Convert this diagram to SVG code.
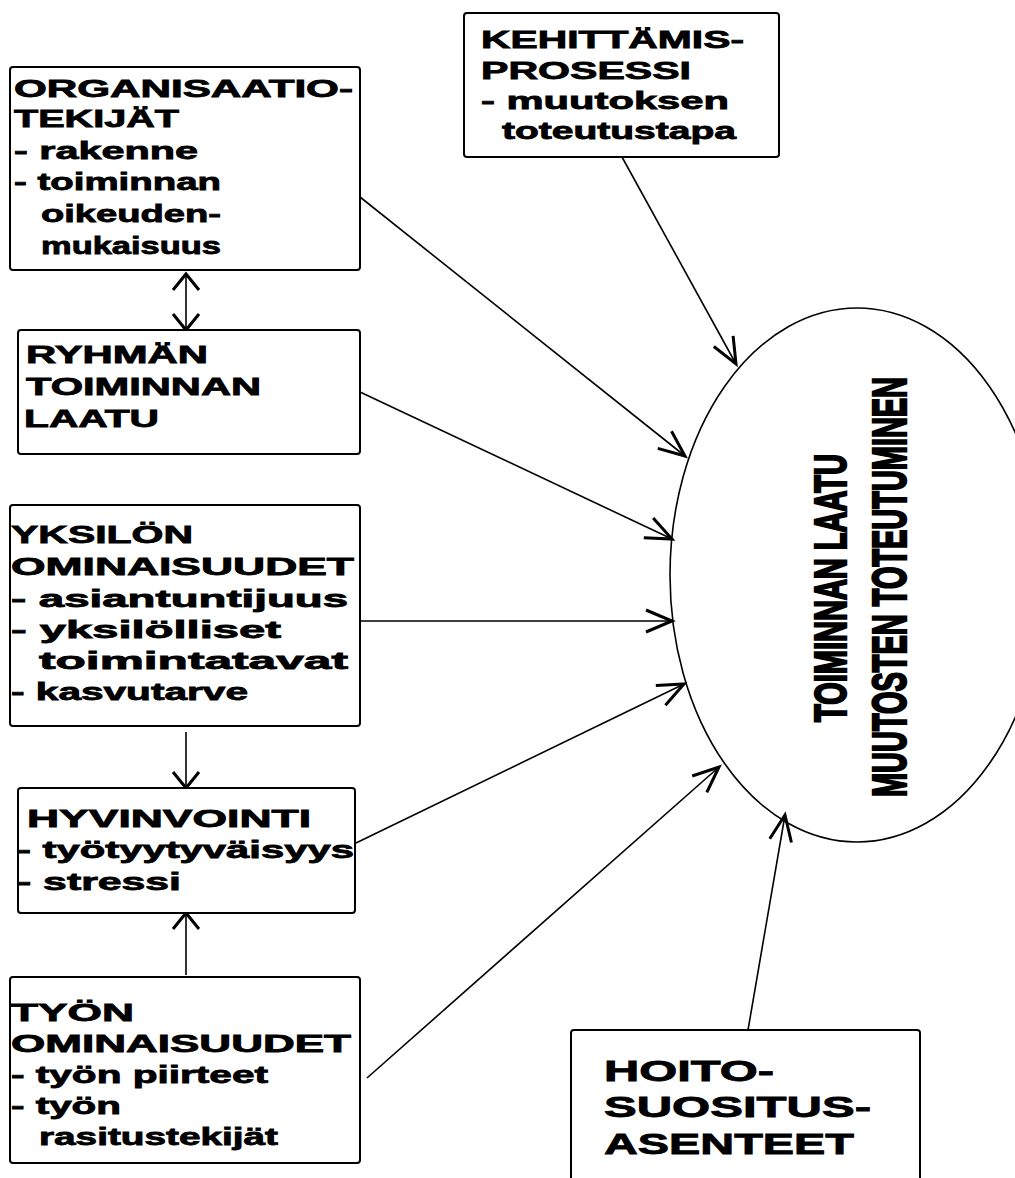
<svg xmlns="http://www.w3.org/2000/svg" width="1015" height="1178" viewBox="0 0 1015 1178">
<style>
.box{fill:#fff;stroke:#000;stroke-width:2}
.t{font-family:"Liberation Sans",Arial,sans-serif;font-weight:bold;font-size:24px;fill:#000;stroke:#000;stroke-width:0.8}
.big{font-size:29px}
.ell{font-family:"Liberation Sans",Arial,sans-serif;font-weight:bold;fill:#000;stroke:#000;stroke-width:2.4}
.c{fill:none;stroke:#000;stroke-width:1.6}
</style>
<defs>
<marker id="ah" markerUnits="userSpaceOnUse" orient="auto" refX="0" refY="0" markerWidth="40" markerHeight="40" overflow="visible">
<path d="M-26,-11 L0,0 L-26,11" fill="none" stroke="#000" stroke-width="3"/>
</marker>
<marker id="sh" markerUnits="userSpaceOnUse" orient="auto-start-reverse" refX="0" refY="0" markerWidth="40" markerHeight="40" overflow="visible">
<path d="M-16,-13 L0,0 L-16,13" fill="none" stroke="#000" stroke-width="3"/>
</marker>
</defs>
<rect width="1015" height="1178" fill="#fff"/>
<g id="connectors">
<line class="c" x1="360" y1="197" x2="685" y2="456" marker-end="url(#ah)"/>
<line class="c" x1="360" y1="392" x2="672" y2="539" marker-end="url(#ah)"/>
<line class="c" x1="360" y1="621" x2="672" y2="621" marker-end="url(#ah)"/>
<line class="c" x1="356" y1="843" x2="684" y2="684" marker-end="url(#ah)"/>
<line class="c" x1="367" y1="1078" x2="719" y2="767" marker-end="url(#ah)"/>
<line class="c" x1="622" y1="157" x2="736" y2="364" marker-end="url(#ah)"/>
<line class="c" x1="748" y1="1030" x2="785" y2="815" marker-end="url(#ah)"/>
<line class="c" x1="186" y1="274" x2="186" y2="330" marker-start="url(#sh)" marker-end="url(#sh)"/>
<line class="c" x1="186" y1="732" x2="186" y2="788" marker-end="url(#sh)"/>
<line class="c" x1="186" y1="975" x2="186" y2="913" marker-end="url(#sh)"/>
</g>
<g id="laatu">
<ellipse cx="857" cy="575" rx="187" ry="267" fill="none" stroke="#000" stroke-width="1.6"/>
<text class="ell" font-size="45" text-anchor="middle" textLength="268" lengthAdjust="spacingAndGlyphs" transform="translate(846,588) rotate(-90)">TOIMINNAN LAATU</text>
<text class="ell" font-size="48" text-anchor="middle" textLength="420" lengthAdjust="spacingAndGlyphs" transform="translate(906,587) rotate(-90)">MUUTOSTEN TOTEUTUMINEN</text>
</g>
<g id="organisaatio">
<rect class="box" x="10" y="67" width="350" height="203" rx="3"/>
<text class="t" x="14" y="97" textLength="339" lengthAdjust="spacingAndGlyphs">ORGANISAATIO-</text>
<text class="t" x="14" y="127" textLength="165" lengthAdjust="spacingAndGlyphs">TEKIJÄT</text>
<text class="t" x="14" y="159" textLength="184" lengthAdjust="spacingAndGlyphs">- rakenne</text>
<text class="t" x="14" y="190" textLength="207" lengthAdjust="spacingAndGlyphs">- toiminnan</text>
<text class="t" x="41" y="222" textLength="180" lengthAdjust="spacingAndGlyphs">oikeuden-</text>
<text class="t" x="41" y="254" textLength="180" lengthAdjust="spacingAndGlyphs">mukaisuus</text>
</g>
<g id="kehittamis">
<rect class="box" x="464" y="13" width="315" height="144" rx="3"/>
<text class="t" x="481" y="48" textLength="263" lengthAdjust="spacingAndGlyphs">KEHITTÄMIS-</text>
<text class="t" x="481" y="79" textLength="210" lengthAdjust="spacingAndGlyphs">PROSESSI</text>
<text class="t" x="481" y="109" textLength="248" lengthAdjust="spacingAndGlyphs">- muutoksen</text>
<text class="t" x="502" y="139" textLength="234" lengthAdjust="spacingAndGlyphs">toteutustapa</text>
</g>
<g id="ryhma">
<rect class="box" x="18" y="330" width="342" height="124" rx="3"/>
<text class="t" x="26" y="363" textLength="182" lengthAdjust="spacingAndGlyphs">RYHMÄN</text>
<text class="t" x="26" y="395" textLength="235" lengthAdjust="spacingAndGlyphs">TOIMINNAN</text>
<text class="t" x="24" y="427" textLength="135" lengthAdjust="spacingAndGlyphs">LAATU</text>
</g>
<g id="yksilo">
<rect class="box" x="10" y="505" width="350" height="221" rx="3"/>
<text class="t" x="11" y="543" textLength="182" lengthAdjust="spacingAndGlyphs">YKSILÖN</text>
<text class="t" x="11" y="575" textLength="343" lengthAdjust="spacingAndGlyphs">OMINAISUUDET</text>
<text class="t" x="11" y="607" textLength="337" lengthAdjust="spacingAndGlyphs">- asiantuntijuus</text>
<text class="t" x="11" y="638" textLength="270" lengthAdjust="spacingAndGlyphs">- yksilölliset</text>
<text class="t" x="39" y="669" textLength="309" lengthAdjust="spacingAndGlyphs">toimintatavat</text>
<text class="t" x="11" y="700" textLength="237" lengthAdjust="spacingAndGlyphs">- kasvutarve</text>
</g>
<g id="hyvinvointi">
<rect class="box" x="18" y="788" width="337" height="125" rx="3"/>
<text class="t" x="27" y="827" textLength="284" lengthAdjust="spacingAndGlyphs">HYVINVOINTI</text>
<text class="t" x="17" y="858" textLength="337" lengthAdjust="spacingAndGlyphs">- työtyytyväisyys</text>
<text class="t" x="17" y="890" textLength="164" lengthAdjust="spacingAndGlyphs">- stressi</text>
</g>
<g id="tyon">
<rect class="box" x="10" y="977" width="350" height="186" rx="3"/>
<text class="t" x="11" y="1021" textLength="123" lengthAdjust="spacingAndGlyphs">TYÖN</text>
<text class="t" x="11" y="1052" textLength="340" lengthAdjust="spacingAndGlyphs">OMINAISUUDET</text>
<text class="t" x="11" y="1083" textLength="257" lengthAdjust="spacingAndGlyphs">- työn piirteet</text>
<text class="t" x="11" y="1114" textLength="110" lengthAdjust="spacingAndGlyphs">- työn</text>
<text class="t" x="39" y="1145" textLength="239" lengthAdjust="spacingAndGlyphs">rasitustekijät</text>
</g>
<g id="hoito">
<rect class="box" x="571" y="1030" width="349" height="170" rx="3"/>
<text class="t big" x="604" y="1081" textLength="170" lengthAdjust="spacingAndGlyphs">HOITO-</text>
<text class="t big" x="604" y="1117" textLength="267" lengthAdjust="spacingAndGlyphs">SUOSITUS-</text>
<text class="t big" x="604" y="1154" textLength="250" lengthAdjust="spacingAndGlyphs">ASENTEET</text>
</g>
</svg>
